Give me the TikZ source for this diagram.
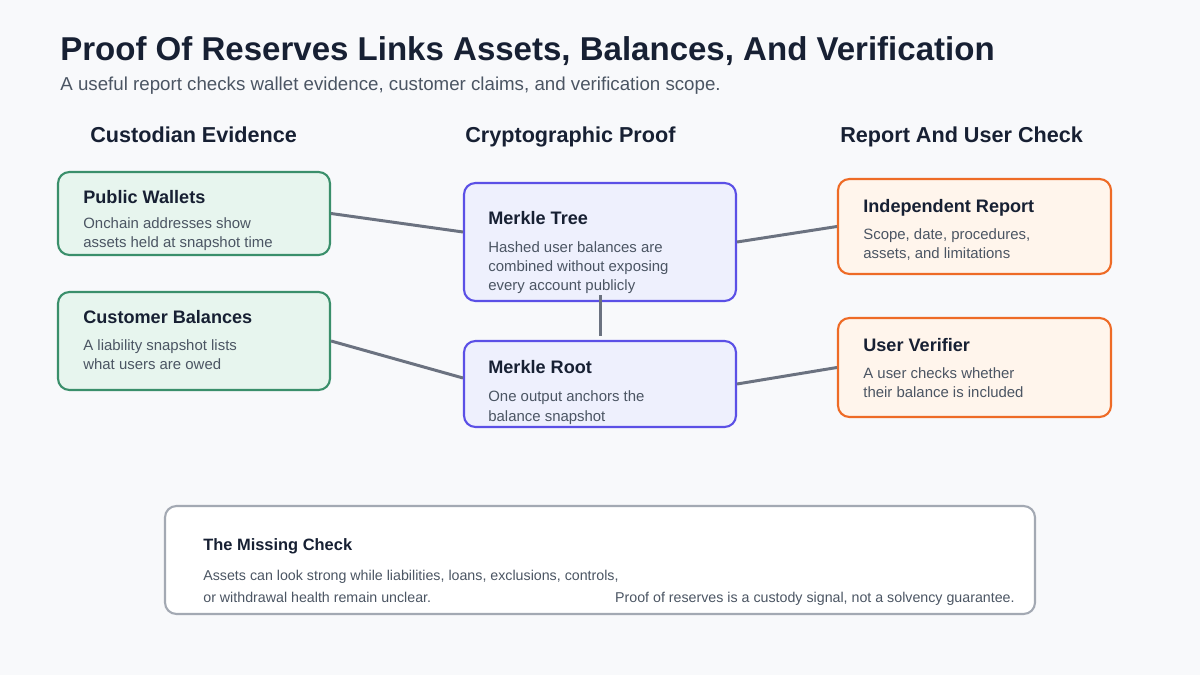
\documentclass[tikz,border=0pt]{standalone}
\usepackage{fontspec}
\setmainfont{Liberation Sans}
\usetikzlibrary{positioning,calc}
\definecolor{cink}{HTML}{172033}
\definecolor{csub}{HTML}{4B5563}
\definecolor{cbg}{HTML}{F8F9FB}
\definecolor{cwire}{HTML}{6B7280}
\definecolor{ccusl}{HTML}{3A8F6B}
\definecolor{ccusf}{HTML}{E7F5EE}
\definecolor{ccryl}{HTML}{5B50E6}
\definecolor{ccryf}{HTML}{EEF0FD}
\definecolor{crepl}{HTML}{EE6B26}
\definecolor{crepf}{HTML}{FFF5EC}
\definecolor{cnote}{HTML}{A3A9B3}
\tikzset{
  card/.style={draw, rounded corners=6.5pt, line width=1.2pt, inner sep=0pt},
  cus/.style={card, draw=ccusl, fill=ccusf},
  cry/.style={card, draw=ccryl, fill=ccryf},
  rep/.style={card, draw=crepl, fill=crepf},
  cardtitle/.style={anchor=base west, inner sep=0pt, text=cink, font=\fontsize{10.3}{12}\bfseries\selectfont},
  cardbody/.style={anchor=base west, inner sep=0pt, text=csub, align=left, font=\fontsize{8.5}{11}\selectfont},
  colhead/.style={anchor=base west, inner sep=0pt, text=cink, font=\fontsize{12.3}{14}\bfseries\selectfont},
  wire/.style={draw=cwire, line width=1.7pt},
}
\begin{document}
\begin{tikzpicture}[x=0.02cm, y=-0.02cm]
\fill[cbg] (0,0) rectangle (1200,675);
\useasboundingbox (0,0) rectangle (1200,675);
% heading
\node[anchor=base west, inner sep=0pt, text=cink, font=\fontsize{18.8}{22}\bfseries\selectfont] (ttl) at (60,61) {Proof Of Reserves Links Assets, Balances, And Verification};
\node[anchor=base west, inner sep=0pt, text=csub, font=\fontsize{10.65}{12}\selectfont] (sub) at (60,91) {A useful report checks wallet evidence, customer claims, and verification scope.};
\node[colhead] (hcus) at (90,143) {Custodian Evidence};
\node[colhead] (hcry) at (465,143) {Cryptographic Proof};
\node[colhead] (hrep) at (840,143) {Report And User Check};
% wires under the cards
\coordinate (mtin) at (463,232);
\coordinate (mrin) at (463,378);
% cards
\node[cus, minimum width=272*0.02cm, minimum height=83*0.02cm] (pw) at (194,213.5) {};
\node[cus, minimum width=272*0.02cm, minimum height=98*0.02cm] (cb) at (194,341) {};
\node[cry, minimum width=272*0.02cm, minimum height=118*0.02cm] (mt) at (600,242) {};
\node[cry, minimum width=272*0.02cm, minimum height=86*0.02cm] (mr) at (600,384) {};
\node[rep, minimum width=273*0.02cm, minimum height=95*0.02cm] (ir) at (974.5,226.5) {};
\node[rep, minimum width=273*0.02cm, minimum height=99*0.02cm] (uv) at (974.5,367.5) {};
\draw[wire] (pw.east) -- (mtin);
\draw[wire] (cb.east) -- (mrin);
\draw[wire] (mt.east) -- (ir.west);
\draw[wire] (mr.east) -- (uv.west);
\draw[wire] ([yshift=0.14cm]mt.south) -- ([yshift=0.08cm]mr.north);
% card texts (base = last line)
\node[cardtitle] (pwt) at (83,204) {Public Wallets};
\node[cardbody] (pwb) at (83,248) {Onchain addresses show\\assets held at snapshot time};
\node[cardtitle] (cbt) at (83,324) {Customer Balances};
\node[cardbody] (cbb) at (83,370) {A liability snapshot lists\\what users are owed};
\node[cardtitle] (mtt) at (488,225) {Merkle Tree};
\node[cardbody] (mtb) at (488,291) {Hashed user balances are\\combined without exposing\\every account publicly};
\node[cardtitle] (mrt) at (488,374) {Merkle Root};
\node[cardbody] (mrb) at (488,421) {One output anchors the\\balance snapshot};
\node[cardtitle] (irt) at (863,213) {Independent Report};
\node[cardbody] (irb) at (863,259) {Scope, date, procedures,\\assets, and limitations};
\node[cardtitle] (uvt) at (863,352) {User Verifier};
\node[cardbody] (uvb) at (863,398) {A user checks whether\\their balance is included};
% the missing check
\node[draw=cnote, fill=white, line width=1.2pt, rounded corners=6.5pt, minimum width=870*0.02cm, minimum height=108*0.02cm, inner sep=0pt] (note) at (600,560) {};
\node[anchor=base west, inner sep=0pt, text=cink, font=\fontsize{9.35}{11}\bfseries\selectfont] (nott) at (203,550) {The Missing Check};
\node[anchor=base west, inner sep=0pt, text=csub, align=left, font=\fontsize{8.1}{12.5}\selectfont] (notb) at (203,602) {Assets can look strong while liabilities, loans, exclusions, controls,\\or withdrawal health remain unclear.};
\node[anchor=base east, inner sep=0pt, text=csub, font=\fontsize{8.1}{10}\selectfont] (notr) at (1015,602) {Proof of reserves is a custody signal, not a solvency guarantee.};
\end{tikzpicture}
\end{document}
